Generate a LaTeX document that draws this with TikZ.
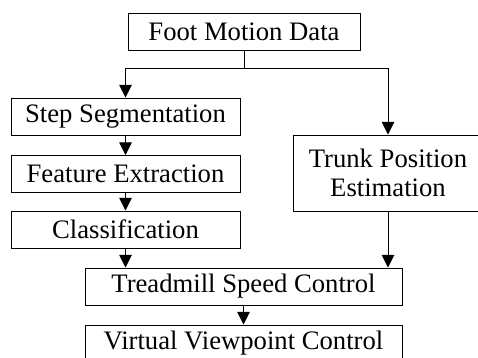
\documentclass[tikz,border=0pt]{standalone}
\usepackage{fontspec}
\setmainfont{Liberation Serif}
\usepackage{tikz}
\usetikzlibrary{arrows.meta, positioning}
\tikzset{
  fl/box/.style={rectangle, draw=black, fill=white, line width=0.75pt,
    font=\fontsize{20}{22}\selectfont, align=center, inner sep=0pt,
    minimum height=27.75pt},
  fl/arr/.style={-{Triangle[length=9.5pt,width=9.5pt]}, line width=0.75pt}
}

\begin{document}
\begin{tikzpicture}[x=0.75pt, y=-0.75pt]
  \useasboundingbox (0,0) rectangle (478,357);
  \clip (0,0) rectangle (478,357);
  \node[fl/box, minimum width=174pt] at (244, 31.5)  (data)  {Foot Motion Data};
  \node[fl/box, minimum width=171.75pt] at (125.5, 116.5) (step) {Step Segmentation};
  \node[fl/box, minimum width=171.75pt] at (125.5, 174)   (feat) {Feature Extraction};
  \node[fl/box, minimum width=171.75pt] at (125.5, 229.5) (cls)  {Classification};
  \node[fl/box, minimum width=142.5pt, minimum height=57pt] at (388, 173) (trunk)
        {Trunk Position\\Estimation};
  \node[fl/box, minimum width=237.75pt] at (243.5, 286.5) (tread) {Treadmill Speed Control};
  \node[fl/box, minimum width=237.75pt] at (243.5, 343.5) (virt)  {Virtual Viewpoint Control};

  \coordinate (split) at (data.south |- 0,68);
  \draw[line width=0.75pt] (data.south) -- (split);
  \draw[fl/arr] (split) -| (step.north);
  \draw[fl/arr] (split) -| (trunk.north);
  \draw[fl/arr] (step) -- (feat);
  \draw[fl/arr] (feat) -- (cls);
  \draw[fl/arr] (cls.south) -- (cls.south |- tread.north);
  \draw[fl/arr] (trunk.south) -- (trunk.south |- tread.north);
  \draw[fl/arr] (tread.south -| virt.north) -- (virt.north);
\end{tikzpicture}
\end{document}
